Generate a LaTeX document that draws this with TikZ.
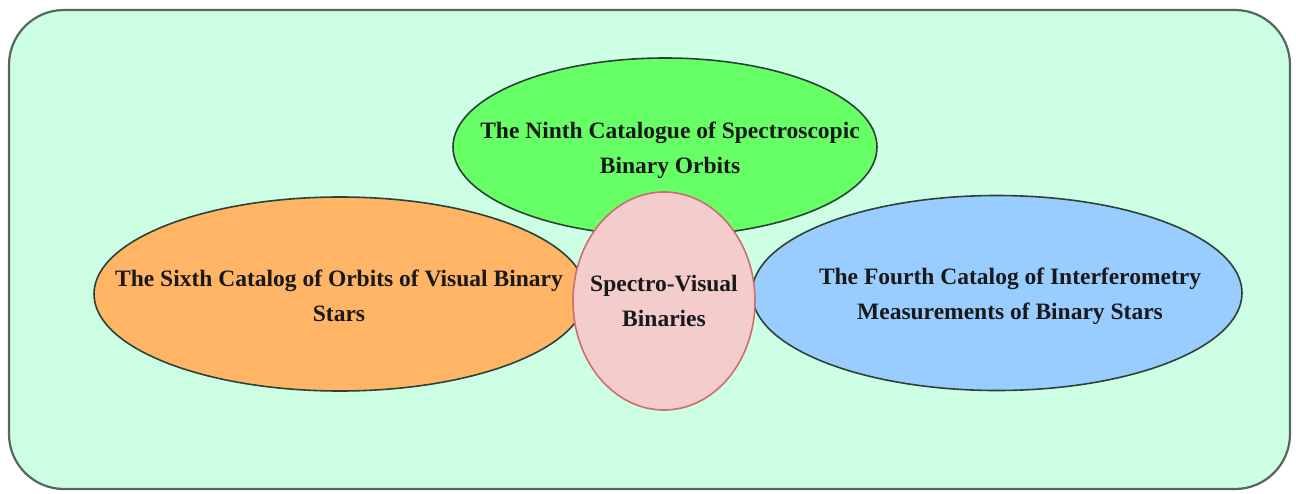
\documentclass[tikz,border=0pt]{standalone}
\usepackage{fontspec}
\setmainfont{Liberation Serif}
\usetikzlibrary{shapes.geometric}
\definecolor{bgmint}{RGB}{204,255,228}
\definecolor{ninthgreen}{RGB}{102,255,102}
\definecolor{sixthorange}{RGB}{255,180,102}
\definecolor{fourthblue}{RGB}{153,204,255}
\definecolor{centrepink}{RGB}{244,204,204}
\definecolor{edgedark}{RGB}{45,65,55}
\definecolor{edgepink}{RGB}{205,110,110}

\begin{document}
\begin{tikzpicture}[x=1pt, y=-1pt,
	catalog/.style={ellipse, draw=edgedark, line width=1.6pt, inner sep=0pt},
	catname/.style={align=center, inner sep=0pt, text=black!90,
		font=\fontsize{23.5}{35}\selectfont\bfseries}]
	\useasboundingbox (0, 0) rectangle (1296, 493);
	\draw[fill=bgmint, draw=edgedark!80, line width=2.2pt, rounded corners=55pt] (9, 10) rectangle (1290, 489);
	% the three catalogues
	\node[catalog, fill=sixthorange, minimum width=492pt, minimum height=194pt] (sixth) at (340, 294) {};
	\node[catalog, fill=fourthblue, minimum width=490pt, minimum height=195pt] (fourth) at (997, 293) {};
	\node[catalog, fill=ninthgreen, minimum width=424pt, minimum height=178pt] (ninth) at (665, 147) {};
	% the overlap in the middle
	\node[catalog, fill=centrepink, draw=edgepink, minimum width=182pt, minimum height=218pt] (svb) at (664, 301) {};
	\node[catname] (sixthname) at (339, 296) {The Sixth Catalog of Orbits of Visual Binary\\Stars};
	\node[catname] (fourthname) at (1010, 296) {The Fourth Catalog of Interferometry\\Measurements of Binary Stars};
	\node[catname] (ninthname) at (670, 150) {The Ninth Catalogue of Spectroscopic\\Binary Orbits};
	\node[catname] (svbname) at (664, 301) {Spectro-Visual\\Binaries};
\end{tikzpicture}
\end{document}
